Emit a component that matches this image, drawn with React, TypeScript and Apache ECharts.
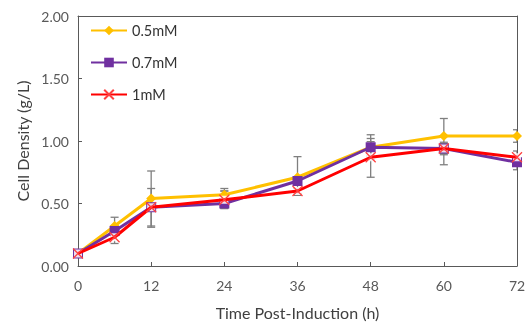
import React, { useEffect, useRef } from "react";
import * as echarts from "echarts";

const hours = [0, 6, 12, 24, 36, 48, 60, 72];
const xTicks = [0, 12, 24, 36, 48, 60, 72];

const conc05 = [0.1, 0.32, 0.54, 0.57, 0.71, 0.95, 1.04, 1.04];
const conc05Low = [0.1, 0.25, 0.32, 0.52, 0.565, 0.85, 0.9, 0.99];
const conc05High = [0.1, 0.39, 0.76, 0.62, 0.875, 1.05, 1.18, 1.09];

const conc07 = [0.1, 0.28, 0.47, 0.5, 0.68, 0.95, 0.94, 0.83];
const conc07Low = [0.1, 0.24, 0.44, 0.46, 0.66, 0.88, 0.89, 0.8];
const conc07High = [0.1, 0.32, 0.5, 0.6, 0.7, 1.02, 0.98, 0.86];

const conc1 = [0.1, 0.23, 0.47, 0.53, 0.6, 0.87, 0.94, 0.87];
const conc1Low = [0.1, 0.18, 0.31, 0.46, 0.58, 0.71, 0.81, 0.77];
const conc1High = [0.1, 0.27, 0.62, 0.6, 0.62, 0.995, 0.99, 0.92];

const seriesNames = ["0.5mM", "0.7mM", "1mM"];

const FONT = "Lato, 'Open Sans', sans-serif";

export default function App() {
  const ref = useRef<HTMLDivElement>(null);
  useEffect(() => {
    if (!ref.current) return;
    const chart = echarts.init(ref.current, null, { renderer: "svg" });
    const pairs = (ys: number[]) => hours.map((h, i) => [h, ys[i]]);
    const errData = (lo: number[], hi: number[]) => hours.map((h, i) => [h, lo[i], hi[i]]);
    const errorSeries = (name: string, lo: number[], hi: number[]) => ({
      type: "custom",
      name: name + "-err",
      z: 1,
      clip: true,
      silent: true,
      data: errData(lo, hi),
      renderItem: (params: any, api: any) => {
        const x = api.value(0);
        const l = api.coord([x, api.value(1)]);
        const h = api.coord([x, api.value(2)]);
        const w = 4;
        const st = { stroke: "#7f7f7f", lineWidth: 1.3 };
        return {
          type: "group",
          children: [
            { type: "line", shape: { x1: l[0], y1: l[1], x2: h[0], y2: h[1] }, style: st },
            { type: "line", shape: { x1: l[0] - w, y1: l[1], x2: l[0] + w, y2: l[1] }, style: st },
            { type: "line", shape: { x1: h[0] - w, y1: h[1], x2: h[0] + w, y2: h[1] }, style: st },
          ],
        };
      },
    });
    const frameAxis = {
      axisLine: { show: true, onZero: false, lineStyle: { color: "#595959", width: 1 } },
      axisTick: { show: false },
      axisLabel: { show: false },
      splitLine: { show: false },
    };
    chart.setOption({
      animation: false,
      textStyle: { fontFamily: FONT },
      grid: {
        left: 78,
        right: 12,
        top: 16,
        bottom: 60,
      },
      legend: {
        data: seriesNames,
        orient: "vertical",
        left: 85,
        top: 18,
        itemGap: 17,
        itemWidth: 36,
        itemHeight: 12,
        textStyle: { fontFamily: FONT, fontSize: 14.5, color: "#333" },
      },
      xAxis: [
        {
          type: "value",
          min: 0,
          max: 72,
          interval: 12,
          name: "Time Post-Induction (h)",
          nameLocation: "middle",
          nameGap: 38,
          nameTextStyle: { fontFamily: FONT, fontSize: 16, color: "#404040" },
          axisLine: { onZero: false, lineStyle: { color: "#595959", width: 1 } },
          axisTick: { inside: true, length: 4, lineStyle: { color: "#595959" } },
          axisLabel: {
            fontFamily: FONT,
            fontSize: 14,
            color: "#595959",
            margin: 12,
            formatter: (v: number) => (xTicks.includes(v) ? String(v) : ""),
          },
          splitLine: { show: false },
        },
        { type: "value", position: "top", min: 0, max: 72, interval: 12, ...frameAxis },
      ],
      yAxis: [
        {
          type: "value",
          min: 0,
          max: 2,
          interval: 0.5,
          name: "Cell Density (g/L)",
          nameLocation: "middle",
          nameGap: 48,
          nameTextStyle: { fontFamily: FONT, fontSize: 16, color: "#404040" },
          axisLine: { show: true, onZero: false, lineStyle: { color: "#595959", width: 1 } },
          axisTick: { show: true, inside: true, length: 4, lineStyle: { color: "#595959" } },
          axisLabel: {
            fontFamily: FONT,
            fontSize: 14,
            color: "#595959",
            margin: 9,
            formatter: (v: number) => v.toFixed(2),
          },
          splitLine: { show: false },
        },
        { type: "value", position: "right", min: 0, max: 2, interval: 0.5, ...frameAxis },
      ],
      series: [
        errorSeries("0.5mM", conc05Low, conc05High),
        errorSeries("0.7mM", conc07Low, conc07High),
        errorSeries("1mM", conc1Low, conc1High),
        {
          type: "line",
          name: "0.5mM",
          z: 2,
          data: pairs(conc05),
          color: "#FFC000",
          lineStyle: { color: "#FFC000", width: 3 },
          symbol: "diamond",
          symbolSize: 10,
          showSymbol: true,
          itemStyle: { color: "#FFC000", borderWidth: 0 },
        },
        {
          type: "line",
          name: "0.7mM",
          z: 3,
          data: pairs(conc07),
          color: "#7030A0",
          lineStyle: { color: "#7030A0", width: 3 },
          symbol: "rect",
          symbolSize: 10,
          showSymbol: true,
          itemStyle: { color: "#7030A0", borderWidth: 0 },
        },
        {
          type: "scatter",
          name: "1mM-bg",
          z: 4,
          silent: true,
          data: pairs(conc1),
          symbol: "rect",
          symbolSize: 8,
          itemStyle: { color: "#ffffff", opacity: 0.85 },
        },
        {
          type: "line",
          name: "1mM",
          z: 5,
          data: pairs(conc1),
          color: "#FF0000",
          lineStyle: { color: "#FF0000", width: 3 },
          symbol: "path://M0,0L10,10M10,0L0,10",
          symbolSize: 10,
          showSymbol: true,
          itemStyle: { color: "none", borderColor: "#FF4040", borderWidth: 1.3 },
        },
      ],
    });
    return () => chart.dispose();
  }, []);
  return (
    <div
      ref={ref}
      style={{ position: "fixed", left: 0, top: 0, width: 529, height: 326 }}
    />
  );
}
